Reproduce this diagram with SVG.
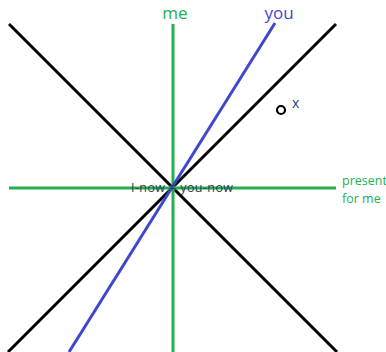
<svg xmlns="http://www.w3.org/2000/svg" width="386" height="352" viewBox="0 0 386 352">
<style>
.k{stroke:#000;stroke-width:3;fill:none}
.g{stroke:#22b14c;stroke-width:3;fill:none}
.b{stroke:#3f48cc;stroke-width:3;fill:none}
text{font-family:"Open Sans","Noto Sans",sans-serif}
</style>
<rect width="386" height="352" fill="#fff"/>
<g id="lines">
<line class="k" x1="9" y1="24" x2="337" y2="352"/>
<line class="k" x1="8" y1="352" x2="336" y2="24"/>
<line class="g" x1="173" y1="24" x2="173" y2="352"/>
<line class="g" x1="9" y1="188" x2="336" y2="188"/>
<line class="b" x1="275" y1="23" x2="69" y2="352"/>
</g>
<g id="labels">
<text x="175" y="19" font-size="17" fill="#22b14c" text-anchor="middle">me</text>
<text x="279" y="19" font-size="17" fill="#3f48cc" text-anchor="middle">you</text>
<text x="342" y="185" font-size="12.5" fill="#22b14c">present</text>
<text x="342" y="203" font-size="12.5" fill="#22b14c">for me</text>
<text x="131" y="192" font-size="12.5" fill="#2e3b55" textLength="102" lengthAdjust="spacing">I-now = you-now</text>
</g>
<g id="x-point">
<circle cx="281" cy="110" r="4" fill="#fff" stroke="#000" stroke-width="2.2"/>
<text x="292" y="108" font-size="14" fill="#2e3b8c">x</text>
</g>
</svg>
